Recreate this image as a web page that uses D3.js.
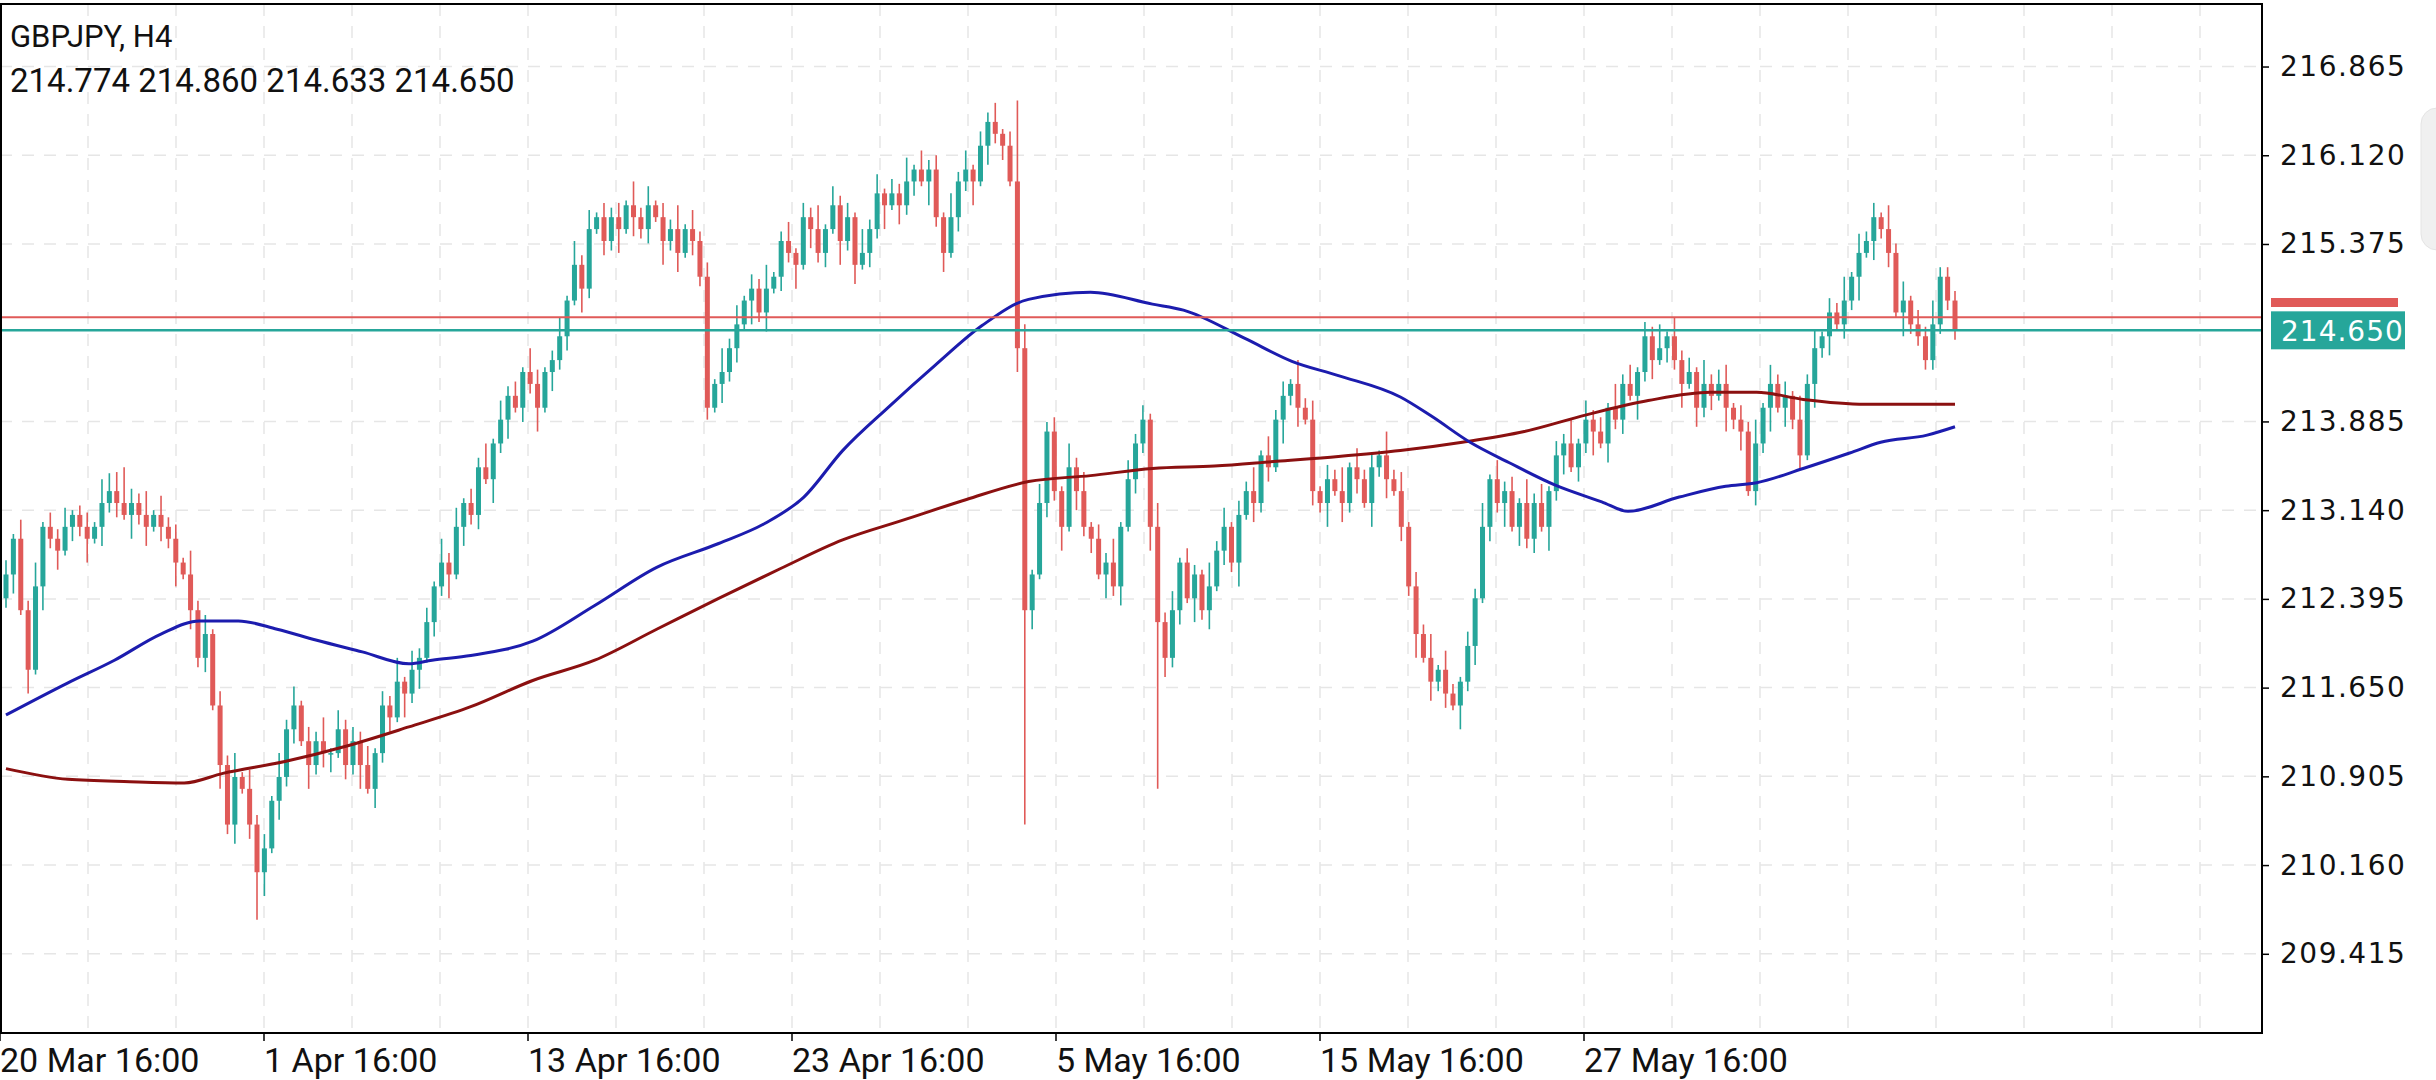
<!DOCTYPE html>
<html><head><meta charset="utf-8">
<script src="https://cdn.jsdelivr.net/npm/d3@7"></script>
<style>html,body{margin:0;padding:0;background:#fff;overflow:hidden}</style>
</head><body>
<svg id="c" width="2436" height="1080"></svg>
<script>
const symbol = "GBPJPY, H4";
const lastOHLC = "214.774 214.860 214.633 214.650";
const yTicks = [216.865,216.120,215.375,213.885,213.140,212.395,211.650,210.905,210.160,209.415];
const xTickLabels = ["20 Mar 16:00","1 Apr 16:00","13 Apr 16:00","23 Apr 16:00","5 May 16:00","15 May 16:00","27 May 16:00"];
const xTickIndex = [0,48,96,144,192,240,288]; // candle slots (48 H4 bars apart)
const firstOpen = 212.4;
const closes = [
212.6,212.9,212.3,211.8,212.5,213.0,212.9,212.8,213.0,213.1,213.0,212.9,213.0,213.2,213.3,213.2,213.1,213.2,213.1,213.0,213.1,213.0,212.9,212.7,212.6,212.3,211.9,212.1,211.5,
211.0,210.5,210.9,210.8,210.5,210.1,210.3,210.7,210.9,211.3,211.5,211.2,211.0,211.2,211.1,211.1,211.3,211.0,211.2,211.0,210.8,211.1,211.5,211.4,211.7,211.6,211.8,211.9,212.2,212.5,212.7,212.6,213.0,213.2,213.1,213.5,213.4,213.7,213.9,214.1,214.0,214.3,214.2,214.0,214.3,214.4,214.6,214.9,215.2,215.0,215.5,215.6,215.4,215.6,215.5,215.7,215.6,215.5,215.7,215.6,215.4,215.5,215.3,215.5,215.4,215.1,214.0,
214.2,214.3,214.5,214.7,214.9,215.0,214.8,215.0,215.1,215.4,215.3,215.2,215.6,215.5,215.3,215.5,215.7,215.4,215.6,215.2,215.3,215.5,215.8,215.7,215.8,215.7,215.9,216.0,215.9,216.0,215.6,215.3,215.6,215.9,216.0,215.9,216.2,216.4,216.3,216.2,215.9,214.5,212.3,
212.6,213.2,213.8,213.3,213.0,213.5,213.3,213.0,212.9,212.6,212.7,212.5,213.0,213.4,213.7,213.9,213.0,212.2,211.9,212.3,212.7,212.4,212.6,212.3,212.5,212.8,213.0,212.7,213.1,213.3,213.2,213.6,213.5,213.9,214.1,214.2,214.0,213.9,213.3,213.2,213.4,213.3,213.2,213.5,213.4,213.2,213.5,213.6,213.4,213.3,213.0,212.5,212.1,211.9,211.7,211.8,211.6,211.5,211.7,212.0,212.4,213.0,213.4,
213.2,213.3,213.0,213.2,212.9,213.2,213.0,213.3,213.6,213.7,213.5,213.7,213.9,213.8,213.7,214.0,213.9,214.2,214.1,214.3,214.6,214.4,214.5,214.6,214.4,214.2,214.3,214.0,214.2,214.1,214.2,214.0,213.9,213.8,213.3,213.7,214.0,214.2,214.0,214.1,213.9,213.6,214.2,214.5,214.6,214.8,214.7,214.9,215.1,215.3,215.4,215.6,215.5,215.3,214.8,214.9,214.7,214.6,214.4,214.7,215.1,214.9,214.65];
// wick lengths above/below the body, in units of 0.04
const wickUp = "3142513241231524132514231524132514231524132514232413251423152413251423153124152413231524132514231524132512413251423152413251423152413241325142315241325142315241321524132514231524132514231524132514213251423152413251423152413251423152341325142315241325142315241325";
const wickDn = "2413152413251423152413251423152413251423152341325142315241325142315241325142315213251423152413251423152413251423152413251423152413251423152413251423152413251423152413251423152413251423152413251423152413251423152413251423152413251423152413251423152413251423152";
const highOverride = {137:216.58, 155:213.95, 16:213.5, 14:213.45};
const lowOverride = {138:210.5, 156:210.8, 34:209.7, 3:211.6, 95:213.9};
// moving averages: [position on candle axis 0..1258 of last bar, value]
const blueMAPos = [0,40,70,100,125,150,175,200,230,260,275,300,340,380,420,460,490,515,540,570,600,630,660,700,740,760,800,830,860,900,920,945,970,1000,1030,1047,1080,1110,1130,1160,1190,1210,1240,1258];
const blueMA = [211.42,211.69,211.88,212.10,212.21,212.21,212.14,212.05,211.95,211.85,211.88,211.92,212.04,212.34,212.66,212.86,213.03,213.25,213.64,214.01,214.36,214.69,214.91,214.97,214.87,214.82,214.58,214.39,214.27,214.09,213.93,213.71,213.54,213.35,213.21,213.13,213.25,213.34,213.37,213.49,213.62,213.71,213.77,213.84];
const redMAPos = [0,40,80,115,140,180,220,260,300,340,380,420,460,500,540,580,620,660,700,740,780,820,860,900,940,980,1020,1060,1100,1130,1160,1200,1258];
const redMA = [210.97,210.88,210.86,210.85,210.93,211.03,211.16,211.32,211.49,211.71,211.88,212.14,212.40,212.65,212.89,213.06,213.23,213.38,213.43,213.49,213.51,213.55,213.59,213.64,213.71,213.80,213.94,214.06,214.13,214.13,214.07,214.03,214.03];
const bidLine = 214.76, lastPrice = 214.650;

const svg = d3.select("#c");
const L=0, R=2262, T=4, B=1033;
const GREEN="#26a69a", RED="#e05a58";
const y = d3.scaleLinear().domain([208.75,217.39]).range([B,T]);
const N = closes.length;
const xi = d3.scaleLinear().domain([0,N-1]).range([6,1955]);
const slot = d3.scaleLinear().domain([0,48]).range([0,264]);
const xm = d3.scaleLinear().domain([0,1258]).range([6,1955]);

// grid
const g = svg.append("g");
for(let gx=88; gx<R; gx+=88) g.append("line").attr("x1",gx).attr("x2",gx).attr("y1",T).attr("y2",B).attr("stroke","#e6e6e6").attr("stroke-width",1.5).attr("stroke-dasharray","12,10");
yTicks.forEach(v=>g.append("line").attr("x1",L).attr("x2",R).attr("y1",y(v)).attr("y2",y(v)).attr("stroke","#e6e6e6").attr("stroke-width",1.5).attr("stroke-dasharray","12,10"));

// candles
const data = closes.map((c,i)=>{
  const o = i===0?firstOpen:closes[i-1];
  const wu = (+(wickUp[i]||2))*0.04, wd=(+(wickDn[i]||2))*0.04;
  const h = highOverride[i] ?? Math.max(o,c)+wu;
  const l = lowOverride[i] ?? Math.min(o,c)-wd;
  return {i,o,c,h,l};
});
const cg = svg.append("g");
cg.selectAll("line").data(data).join("line")
  .attr("x1",d=>xi(d.i)).attr("x2",d=>xi(d.i)).attr("y1",d=>y(d.h)).attr("y2",d=>y(d.l))
  .attr("stroke",d=>d.c>=d.o?GREEN:RED).attr("stroke-width",1.6);
cg.selectAll("rect").data(data).join("rect")
  .attr("x",d=>xi(d.i)-2.5).attr("width",5)
  .attr("y",d=>y(Math.max(d.o,d.c))).attr("height",d=>Math.max(1.5,Math.abs(y(d.o)-y(d.c))))
  .attr("fill",d=>d.c>=d.o?GREEN:RED);

// MAs
const line = d3.line().x(d=>xm(d[0])).y(d=>y(d[1])).curve(d3.curveMonotoneX);
svg.append("path").attr("d",line(redMAPos.map((p,i)=>[p,redMA[i]]))).attr("fill","none").attr("stroke","#8b1010").attr("stroke-width",3);
svg.append("path").attr("d",line(blueMAPos.map((p,i)=>[p,blueMA[i]]))).attr("fill","none").attr("stroke","#1c1cae").attr("stroke-width",3);

// price lines
svg.append("line").attr("x1",L).attr("x2",R).attr("y1",y(bidLine)).attr("y2",y(bidLine)).attr("stroke",RED).attr("stroke-width",2);
svg.append("line").attr("x1",L).attr("x2",R).attr("y1",y(lastPrice)).attr("y2",y(lastPrice)).attr("stroke",GREEN).attr("stroke-width",2.5);

// frame
svg.append("rect").attr("x",1).attr("y",T).attr("width",R-1).attr("height",B-T).attr("fill","none").attr("stroke","#000").attr("stroke-width",2);

// y axis
const ya = svg.append("g").attr("transform",`translate(${R},0)`).call(d3.axisRight(y).tickValues(yTicks).tickSize(7).tickFormat(d3.format(".3f")));
ya.select(".domain").remove();
ya.selectAll("line").attr("stroke","#000").attr("stroke-width",1.5);
ya.selectAll("text").attr("x",18).attr("font-family","DejaVu Sans").attr("font-size",28).attr("fill","#111").attr("letter-spacing","1.5px");

// x axis ticks and labels
xTickIndex.forEach((s,k)=>{
  const px = slot(s);
  svg.append("line").attr("x1",px).attr("x2",px).attr("y1",B).attr("y2",B+8).attr("stroke","#000").attr("stroke-width",1.5);
  svg.append("text").attr("x",px).attr("y",1072).text(xTickLabels[k]).attr("font-family","Roboto").attr("font-size",34).attr("fill","#111");
});

// current price labels
svg.append("rect").attr("x",2271).attr("y",298).attr("width",127).attr("height",9).attr("fill",RED);
svg.append("rect").attr("x",2271).attr("y",y(lastPrice)-19).attr("width",134).attr("height",38).attr("fill",GREEN);
svg.append("text").attr("x",2281).attr("y",y(lastPrice)+11).text(lastPrice.toFixed(3)).attr("font-family","DejaVu Sans").attr("font-size",28).attr("fill","#fff").attr("letter-spacing","1px");

// side tab
svg.append("rect").attr("x",2421).attr("y",108).attr("width",40).attr("height",142).attr("rx",16).attr("fill","#f0f0f0").attr("stroke","#e4e4e4");

// titles
svg.append("text").attr("x",10).attr("y",47).text(symbol).attr("font-family","Roboto").attr("font-size",31).attr("fill","#111");
svg.append("text").attr("x",10).attr("y",92).text(lastOHLC).attr("font-family","Roboto").attr("font-size",33).attr("fill","#111");
</script></body></html>
